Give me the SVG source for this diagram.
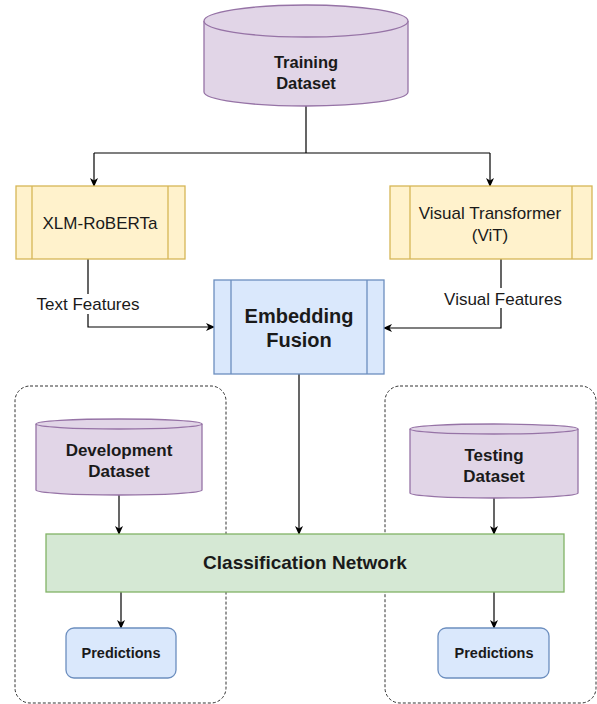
<svg xmlns="http://www.w3.org/2000/svg" width="597" height="704" viewBox="0 0 597 704">
<defs>
<marker id="arr" markerWidth="10" markerHeight="10" refX="8" refY="5" orient="auto" markerUnits="userSpaceOnUse">
<path d="M0,1 L9,5 L0,9 L2.5,5 Z" fill="#000"/>
</marker>
</defs>
<style>
.cyl{fill:#e1d5e7;stroke:#9673a6;stroke-width:1.3}
.proc{fill:#fff2cc;stroke:#d6b656;stroke-width:1.3}
.blue{fill:#dae8fc;stroke:#6c8ebf;stroke-width:1.3}
.green{fill:#d5e8d4;stroke:#82b366;stroke-width:1.3}
.grp{fill:none;stroke:#333;stroke-width:1;stroke-dasharray:3 2}
.edge{fill:none;stroke:#000;stroke-width:1.2;marker-end:url(#arr)}
.line{fill:none;stroke:#000;stroke-width:1.2}
text{font-family:"Liberation Sans",Arial,sans-serif;fill:#1a1a1a;text-anchor:middle}
.b{font-weight:bold}
</style>
<rect width="597" height="704" fill="#fff"/>

<g id="group-dev"><rect class="grp" x="15" y="386" width="211" height="317" rx="15"/></g>
<g id="group-test"><rect class="grp" x="385" y="386" width="211" height="317" rx="15"/></g>

<g id="connectors">
<path class="line" d="M306,106 V153 H94 M306,153 H490"/>
<path class="edge" d="M94,153 V186"/>
<path class="edge" d="M490,153 V186"/>
<path class="edge" d="M88,259 V327 H214"/>
<path class="edge" d="M501,259 V328 H384"/>
<path class="edge" d="M299,374 V534"/>
<path class="edge" d="M119,495 V534"/>
<path class="edge" d="M494,498 V534"/>
<path class="edge" d="M121,592 V628"/>
<path class="edge" d="M494,592 V628"/>
<rect x="34" y="294" width="108" height="20" fill="#fff"/>
<text x="88" y="310" font-size="17">Text Features</text>
<rect x="440" y="288" width="126" height="20" fill="#fff"/>
<text x="503" y="305" font-size="17">Visual Features</text>
</g>

<g id="training">
<path class="cyl" d="M204,21 A102,16 0 0 1 408,21 V92 A102,14 0 0 1 204,92 Z"/>
<path class="cyl" d="M204,21 A102,16 0 0 0 408,21" fill="none"/>
<text class="b" x="306" y="68" font-size="16.5">Training</text>
<text class="b" x="306" y="89" font-size="16.5">Dataset</text>
</g>

<g id="xlm">
<rect class="proc" x="16" y="186" width="169" height="73"/>
<path class="proc" d="M32,186 V259 M168,186 V259"/>
<text x="100" y="229" font-size="17">XLM-RoBERTa</text>
</g>

<g id="vit">
<rect class="proc" x="390" y="186" width="202" height="73"/>
<path class="proc" d="M410,186 V259 M572,186 V259"/>
<text x="490" y="219" font-size="17">Visual Transformer</text>
<text x="490" y="241" font-size="17">(ViT)</text>
</g>

<g id="fusion">
<rect class="blue" x="214" y="280" width="170" height="94"/>
<path class="blue" d="M231,280 V374 M367,280 V374"/>
<text class="b" x="299" y="323" font-size="20">Embedding</text>
<text class="b" x="299" y="347" font-size="20">Fusion</text>
</g>

<g id="dev">
<path class="cyl" d="M36,424 A83,5 0 0 1 202,424 V490 A83,5 0 0 1 36,490 Z"/>
<path class="cyl" d="M36,424 A83,5 0 0 0 202,424" fill="none"/>
<text class="b" x="119" y="456" font-size="17">Development</text>
<text class="b" x="119" y="477" font-size="17">Dataset</text>
</g>

<g id="test">
<path class="cyl" d="M410,429 A84,5 0 0 1 578,429 V493 A84,5 0 0 1 410,493 Z"/>
<path class="cyl" d="M410,429 A84,5 0 0 0 578,429" fill="none"/>
<text class="b" x="494" y="461" font-size="17">Testing</text>
<text class="b" x="494" y="482" font-size="17">Dataset</text>
</g>

<g id="classifier">
<rect class="green" x="46" y="534" width="518" height="58"/>
<text class="b" x="305" y="569" font-size="19">Classification Network</text>
</g>

<g id="pred-dev">
<rect class="blue" x="66" y="628" width="110" height="50" rx="8"/>
<text class="b" x="121" y="658" font-size="14.5">Predictions</text>
</g>

<g id="pred-test">
<rect class="blue" x="438" y="628" width="111" height="50" rx="8"/>
<text class="b" x="494" y="658" font-size="14.5">Predictions</text>
</g>
</svg>
